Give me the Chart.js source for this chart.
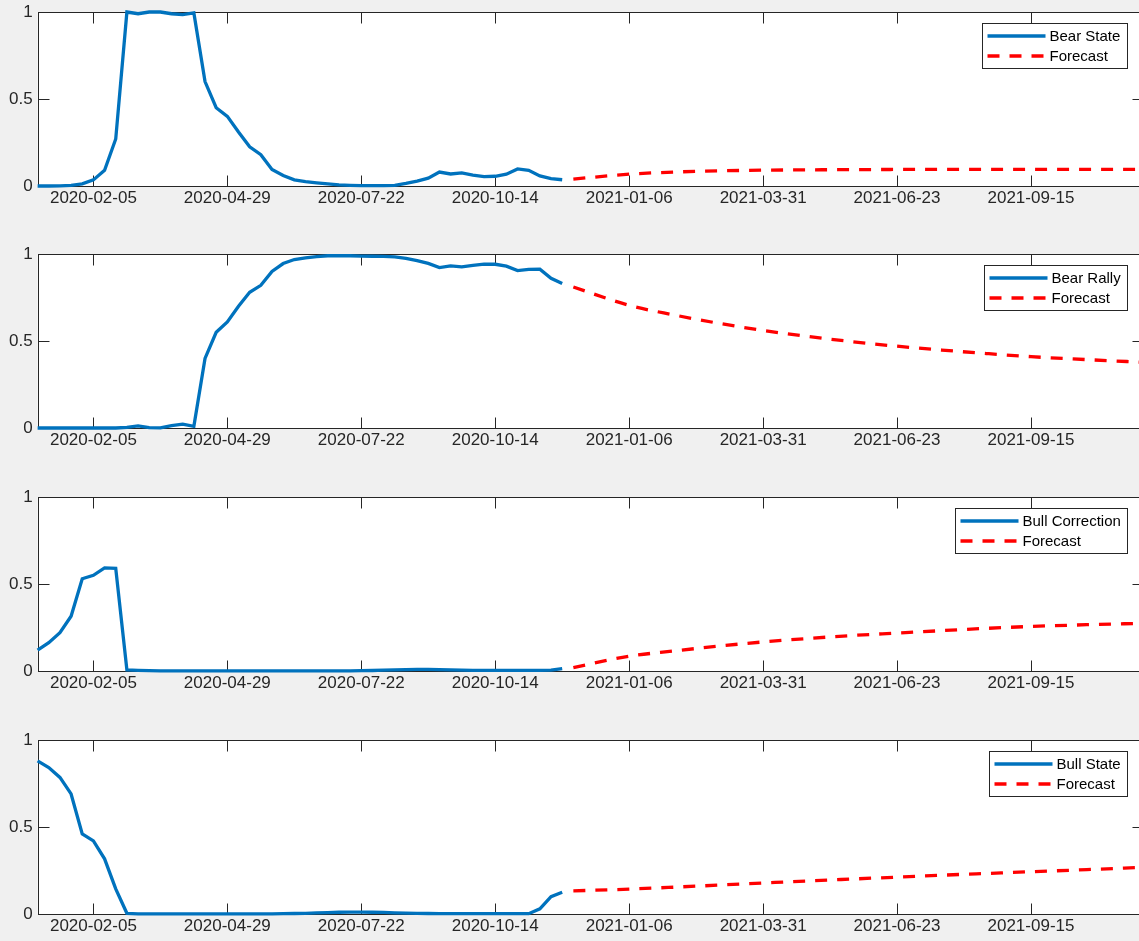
<!DOCTYPE html>
<html>
<head>
<meta charset="utf-8">
<script src="https://cdn.jsdelivr.net/npm/chart.js@4.4.1/dist/chart.umd.min.js"></script>
<style>
  html, body { margin: 0; padding: 0; background: #f0f0f0; overflow: hidden; width: 1139px; height: 941px; }
  .panel { position: absolute; left: 0; width: 1146px; height: 243px; }
</style>
</head>
<body>
<div class="panel" style="top:0px"><canvas id="c0" width="1146" height="243"></canvas></div>
<div class="panel" style="top:242px"><canvas id="c1" width="1146" height="243"></canvas></div>
<div class="panel" style="top:485px"><canvas id="c2" width="1146" height="243"></canvas></div>
<div class="panel" style="top:728px"><canvas id="c3" width="1146" height="243"></canvas></div>
<script>
// weekly smoothed probabilities (history)
const histDates = [
  '2020-01-01', '2020-01-08', '2020-01-15', '2020-01-22', '2020-01-29',
  '2020-02-05', '2020-02-12', '2020-02-19', '2020-02-26',
  '2020-03-04', '2020-03-11', '2020-03-18', '2020-03-25',
  '2020-04-01', '2020-04-08', '2020-04-15', '2020-04-22', '2020-04-29',
  '2020-05-06', '2020-05-13', '2020-05-20', '2020-05-27',
  '2020-06-03', '2020-06-10', '2020-06-17', '2020-06-24',
  '2020-07-01', '2020-07-08', '2020-07-15', '2020-07-22', '2020-07-29',
  '2020-08-05', '2020-08-12', '2020-08-19', '2020-08-26',
  '2020-09-02', '2020-09-09', '2020-09-16', '2020-09-23', '2020-09-30',
  '2020-10-07', '2020-10-14', '2020-10-21', '2020-10-28',
  '2020-11-04', '2020-11-11', '2020-11-18', '2020-11-25'
];
// forecast read at these dates
const fcDates = [
  '2020-12-02', '2021-01-06', '2021-02-03', '2021-03-03', '2021-03-31', '2021-04-28',
  '2021-05-26', '2021-06-23', '2021-07-21', '2021-08-18', '2021-09-15', '2021-10-20', '2021-11-24'
];
const tickDates = ['2020-02-05', '2020-04-29', '2020-07-22', '2020-10-14', '2021-01-06', '2021-03-31', '2021-06-23', '2021-09-15'];
const yTicks = [0, 0.5, 1];
const xStart = '2020-01-01';
const xEnd = '2021-11-24';

const stateNames = ['Bear State', 'Bear Rally', 'Bull Correction', 'Bull State'];

const bearState = [
  0, 0, 0.001, 0.004, 0.012, 0.035, 0.09, 0.27, 1.0, 0.99, 1.0, 1.0,
  0.99, 0.985, 0.995, 0.6, 0.45, 0.40, 0.31, 0.225, 0.18, 0.095, 0.06, 0.035,
  0.025, 0.018, 0.012, 0.007, 0.004, 0.002, 0.002, 0.002, 0.004, 0.015, 0.028, 0.045,
  0.08, 0.069, 0.075, 0.063, 0.054, 0.056, 0.068, 0.098, 0.09, 0.058, 0.042, 0.036
];
const bearRally = [
  0, 0, 0, 0, 0, 0, 0, 0, 0.003, 0.012, 0.002, 0.001,
  0.014, 0.022, 0.01, 0.40, 0.55, 0.61, 0.70, 0.78, 0.82, 0.90, 0.945, 0.968,
  0.978, 0.985, 0.99, 0.99, 0.99, 0.988, 0.987, 0.986, 0.983, 0.975, 0.962, 0.946,
  0.922, 0.932, 0.926, 0.935, 0.942, 0.941, 0.93, 0.905, 0.912, 0.913, 0.86, 0.83
];
const bullCorrection = [
  0.12, 0.163, 0.22, 0.315, 0.53, 0.55, 0.593, 0.59, 0.006, 0.004, 0.002, 0.001,
  0.001, 0.001, 0.001, 0.001, 0.001, 0.001, 0.001, 0.001, 0.001, 0.001, 0.001, 0.001,
  0.001, 0.001, 0.001, 0.001, 0.001, 0.002, 0.003, 0.005, 0.007, 0.008, 0.009, 0.009,
  0.008, 0.006, 0.005, 0.004, 0.004, 0.004, 0.004, 0.004, 0.004, 0.004, 0.005, 0.014
];
const bullState = [
  0.88, 0.842, 0.785, 0.69, 0.46, 0.42, 0.317, 0.144, 0.004, 0.001, 0.001, 0.001,
  0.001, 0.001, 0.001, 0.001, 0.001, 0.001, 0.001, 0.001, 0.001, 0.001, 0.002, 0.003,
  0.004, 0.006, 0.008, 0.01, 0.011, 0.011, 0.01, 0.009, 0.007, 0.005, 0.004, 0.003,
  0.002, 0.002, 0.002, 0.002, 0.002, 0.002, 0.002, 0.002, 0.002, 0.03, 0.1, 0.125
];

const bearStateFc = [0.04, 0.068, 0.08, 0.087, 0.091, 0.093, 0.094, 0.095, 0.095, 0.095, 0.095, 0.095, 0.095];
const bearRallyFc = [0.81, 0.705, 0.65, 0.602, 0.561, 0.526, 0.496, 0.47, 0.448, 0.428, 0.41, 0.393, 0.378];
const bullCorrectionFc = [0.02, 0.085, 0.115, 0.143, 0.167, 0.187, 0.204, 0.218, 0.232, 0.245, 0.256, 0.266, 0.274];
const bullStateFc = [0.133, 0.143, 0.154, 0.166, 0.178, 0.19, 0.201, 0.212, 0.223, 0.233, 0.243, 0.255, 0.268];

const histSeries = [bearState, bearRally, bullCorrection, bullState];
const fcSeries = [bearStateFc, bearRallyFc, bullCorrectionFc, bullStateFc];

const DAY = 86400000;
const t0 = Date.parse(xStart);
const toDay = s => (Date.parse(s) - t0) / DAY;
const dayLabel = d => new Date(t0 + d * DAY).toISOString().slice(0, 10);

const FONT = "'Liberation Sans', Arial, Helvetica, sans-serif";
const AX = '#262626';

// MATLAB-ish box, inward ticks, legend inside the axes
const matlabAxes = {
  id: 'matlabAxes',
  beforeDraw(chart) {
    const { ctx, chartArea: a } = chart;
    ctx.save();
    ctx.fillStyle = '#ffffff';
    ctx.fillRect(a.left, a.top, a.right - a.left, a.bottom - a.top);
    ctx.restore();
  },
  beforeDatasetsDraw(chart) {
    const { ctx, chartArea: a, scales } = chart;
    const L = Math.round(a.left) + 0.5, R = Math.round(a.right) + 0.5;
    const T = Math.round(a.top) + 0.5, B = Math.round(a.bottom) + 0.5;
    const tl = 11;
    ctx.save();
    ctx.strokeStyle = AX;
    ctx.lineWidth = 1;
    ctx.strokeRect(L, T, R - L, B - T);
    ctx.beginPath();
    scales.x.ticks.forEach(t => {
      const px = Math.round(scales.x.getPixelForValue(t.value)) + 0.5;
      ctx.moveTo(px, B); ctx.lineTo(px, B - tl);
      ctx.moveTo(px, T); ctx.lineTo(px, T + tl);
    });
    scales.y.ticks.forEach(t => {
      const py = Math.round(scales.y.getPixelForValue(t.value)) + 0.5;
      ctx.moveTo(L, py); ctx.lineTo(L + tl, py);
      ctx.moveTo(R, py); ctx.lineTo(R - tl, py);
    });
    ctx.stroke();
    ctx.restore();
  },
  afterDatasetsDraw(chart) {
    const { ctx, chartArea: a } = chart;
    const sets = chart.data.datasets;
    ctx.save();
    ctx.font = '15px ' + FONT;
    const tw = Math.max(...sets.map(d => ctx.measureText(d.label).width));
    const w = Math.round(67 + tw + 7), h = 45;
    const bx = Math.round(a.right - 15.5 - w) + 0.5;
    const by = Math.round(a.top + 11) + 0.5;
    ctx.fillStyle = '#ffffff';
    ctx.fillRect(bx, by, w, h);
    ctx.strokeStyle = AX;
    ctx.lineWidth = 1;
    ctx.strokeRect(bx, by, w, h);
    sets.forEach((d, i) => {
      const ry = by + 12.5 + i * 20;
      ctx.beginPath();
      ctx.strokeStyle = d.borderColor;
      ctx.lineWidth = d.borderWidth;
      ctx.setLineDash(d.borderDash || []);
      ctx.moveTo(bx + 5, ry);
      ctx.lineTo(bx + 63, ry);
      ctx.stroke();
      ctx.setLineDash([]);
      ctx.fillStyle = '#000000';
      ctx.textBaseline = 'middle';
      ctx.fillText(d.label, bx + 67, ry + 0.5);
    });
    ctx.restore();
  }
};

const histDays = histDates.map(toDay);
const fcDays = fcDates.map(toDay);
const tickDays = tickDates.map(toDay);

stateNames.forEach((name, k) => {
  new Chart(document.getElementById('c' + k), {
    type: 'line',
    data: {
      datasets: [
        {
          label: name,
          data: histDays.map((d, i) => ({ x: d, y: histSeries[k][i] })),
          borderColor: '#0072BD',
          borderWidth: 3.3,
          pointRadius: 0,
          tension: 0,
          clip: 5
        },
        {
          label: 'Forecast',
          data: fcDays.map((d, i) => ({ x: d, y: fcSeries[k][i] })),
          borderColor: '#FF0000',
          borderWidth: 3.3,
          borderDash: [12, 10],
          pointRadius: 0,
          cubicInterpolationMode: 'monotone',
          clip: 5
        }
      ]
    },
    options: {
      responsive: false,
      animation: false,
      layout: { padding: { top: 12, left: 0, right: 3.4, bottom: 0 } },
      plugins: { legend: { display: false }, tooltip: { enabled: false } },
      scales: {
        x: {
          type: 'linear',
          min: toDay(xStart),
          max: toDay(xEnd),
          afterBuildTicks: s => { s.ticks = tickDays.map(v => ({ value: v })); },
          afterFit: s => { s.height = 57; s.paddingLeft = 0; s.paddingRight = 0; },
          grid: { display: false, drawTicks: false },
          border: { display: false },
          ticks: {
            callback: v => dayLabel(v),
            font: { family: FONT, size: 17 },
            color: AX,
            padding: 2,
            maxRotation: 0,
            autoSkip: false
          }
        },
        y: {
          type: 'linear',
          min: 0,
          max: 1,
          afterBuildTicks: s => { s.ticks = yTicks.map(v => ({ value: v })); },
          afterFit: s => { s.width = 37.6; s.paddingTop = 0; s.paddingBottom = 0; },
          grid: { display: false, drawTicks: false },
          border: { display: false },
          ticks: {
            callback: v => String(v),
            font: { family: FONT, size: 17 },
            color: AX,
            padding: 5
          }
        }
      }
    },
    plugins: [matlabAxes]
  });
});
</script>
</body>
</html>
